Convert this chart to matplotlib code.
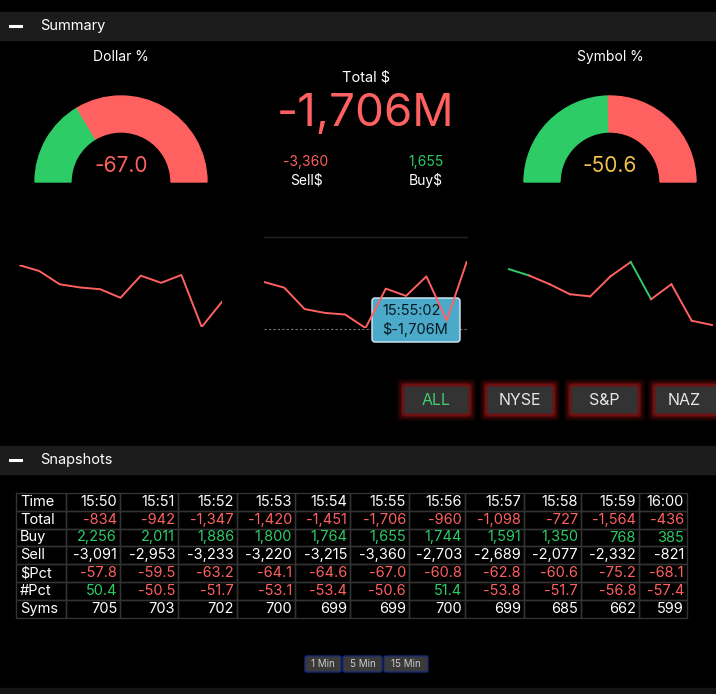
import numpy as np
import matplotlib.pyplot as plt
from matplotlib.patches import Wedge, Rectangle, FancyBboxPatch

plt.rcParams["font.family"] = ["Inter", "DejaVu Sans"]

W, H = 716, 694

# Snapshot data
times = ["15:50", "15:51", "15:52", "15:53", "15:54", "15:55", "15:56", "15:57", "15:58", "15:59", "16:00"]
total = [-834, -942, -1347, -1420, -1451, -1706, -960, -1098, -727, -1564, -436]
buy = [2256, 2011, 1886, 1800, 1764, 1655, 1744, 1591, 1350, 768, 385]
sell = [-3091, -2953, -3233, -3220, -3215, -3360, -2703, -2689, -2077, -2332, -821]
dollar_pct = [-57.8, -59.5, -63.2, -64.1, -64.6, -67.0, -60.8, -62.8, -60.6, -75.2, -68.1]
sym_pct = [50.4, -50.5, -51.7, -53.1, -53.4, -50.6, 51.4, -53.8, -51.7, -56.8, -57.4]
syms = [705, 703, 702, 700, 699, 699, 700, 699, 685, 662, 599]

dollar_gauge = -67.0
symbol_gauge = -50.6
total_now = -1706
sell_now = -3360
buy_now = 1655

RED = "#ff6060"
GREEN = "#2ecc66"
BG = "#000000"
BAR = "#1c1c1c"

fig = plt.figure(figsize=(W / 100, H / 100), dpi=100, facecolor=BG)
ax = fig.add_axes([0, 0, 1, 1])
ax.set_xlim(0, W)
ax.set_ylim(H, 0)
ax.axis("off")
ax.set_aspect("auto")


def pax(x0, y0, x1, y1):
    a = fig.add_axes([x0 / W, 1 - y1 / H, (x1 - x0) / W, (y1 - y0) / H])
    a.axis("off")
    a.patch.set_alpha(0)
    return a


# section headers
for y, label in [(12, "Summary"), (446, "Snapshots")]:
    ax.add_patch(Rectangle((0, y), W, 28, color=BAR))
    ax.plot([10, 21], [y + 14, y + 14], color="white", lw=2.2)
    ax.text(40, y + 14, label, color="white", fontsize=10.5, va="center")


# gauges
def gauge(cx, val, title, vcol):
    g = pax(cx - 90, 40, cx + 90, 190)
    g.set_xlim(-90, 90)
    g.set_ylim(-8, 142)
    split = 180 - (1 - abs(val) / 100) * 180
    g.add_patch(Wedge((0, 0), 86, split, 180, width=36, color=GREEN))
    g.add_patch(Wedge((0, 0), 86, 0, split, width=36, color=RED))
    g.text(0, 125, title, color="white", fontsize=10, ha="center", va="center")
    g.text(0, 16, f"{val:.1f}", color=vcol, fontsize=15, ha="center", va="center")


gauge(121, dollar_gauge, "Dollar %", RED)
gauge(610, symbol_gauge, "Symbol %", "#f2c14e")

# total block
ax.text(366, 77, "Total $", color="white", fontsize=10.5, ha="center", va="center")
ax.text(366, 114, f"{total_now:,}M", color=RED, fontsize=33, ha="center", va="center")
ax.text(306, 162, f"{sell_now:,}", color=RED, fontsize=10, ha="center", va="center")
ax.text(306, 180, "Sell$", color="white", fontsize=10, ha="center", va="center")
ax.text(426, 162, f"{buy_now:,}", color=GREEN, fontsize=10, ha="center", va="center")
ax.text(426, 180, "Buy$", color="white", fontsize=10, ha="center", va="center")

# sparklines
x = np.arange(len(times))
s1 = pax(19, 265, 222, 327)
s1.plot(x, dollar_pct, color=RED, lw=1.4)
s1.set_xlim(0, 10)
s1.set_ylim(min(dollar_pct), max(dollar_pct))

ax.plot([264, 467], [237, 237], color="#222222", lw=1)
ax.plot([264, 467], [329, 329], color="#777777", lw=0.8, ls=(0, (2, 2)))
s2 = pax(264, 261, 467, 328)
s2.plot(x, total, color=RED, lw=1.4)
s2.set_xlim(0, 10)
s2.set_ylim(min(total), max(total))

# symbol share: buy-side share of symbols
s3 = pax(509, 262, 712, 325)
sv = [v if v > 0 else 100 + v for v in sym_pct]
for i in range(len(sv) - 1):
    s3.plot(x[i:i + 2], sv[i:i + 2], color=GREEN if sym_pct[i] > 0 else RED, lw=1.4, clip_on=False)
s3.set_xlim(0, 10)
s3.set_ylim(min(sv), max(sv))

# tooltip
ax.add_patch(FancyBboxPatch((372, 298), 88, 44, boxstyle="round,pad=0,rounding_size=3",
                            fc="#4ba9c9", ec="#d8eef6", lw=1, zorder=5))
ax.text(382, 311, "15:55:02", color="#0a1a22", fontsize=10.5, va="center", zorder=6)
ax.text(382, 329, f"$-{abs(total_now):,}M", color="#0a1a22", fontsize=10.5, va="center", zorder=6)

# market buttons
for (x0, x1, lbl) in [(404, 469, "ALL"), (487, 553, "NYSE"), (571, 638, "S&P"), (655, 722, "NAZ")]:
    for k, al in [(7, 0.08), (5, 0.12), (3, 0.2), (1.5, 0.3)]:
        ax.add_patch(FancyBboxPatch((x0 - k, 386 - k), x1 - x0 + 2 * k, 28 + 2 * k,
                                    boxstyle="round,pad=0,rounding_size=4", fc="#ff2020", ec="none", alpha=al))
    ax.add_patch(FancyBboxPatch((x0, 386), x1 - x0, 28, boxstyle="round,pad=0,rounding_size=2",
                                fc="#333333", ec="#5a1a1a", lw=1))
    ax.text((x0 + min(x1, W + 10)) / 2 - (4 if lbl == "NAZ" else 0), 400, lbl,
            color="#3fcf6f" if lbl == "ALL" else "#e6e6e6", fontsize=11.5, ha="center", va="center")

# table
col_edges = [16, 66, 120, 178, 237, 295, 350, 409, 465, 524, 581, 639, 687]
row_top, row_h = 493, 17.8
rows = [
    ("Time", times, None),
    ("Total", [f"{v:,}" for v in total], [RED if v < 0 else GREEN for v in total]),
    ("Buy", [f"{v:,}" for v in buy], [GREEN] * len(buy)),
    ("Sell", [f"{v:,}" for v in sell], ["white"] * len(sell)),
    ("$Pct", [f"{v:.1f}" for v in dollar_pct], [RED if v < 0 else GREEN for v in dollar_pct]),
    ("#Pct", [f"{v:.1f}" for v in sym_pct], [RED if v < 0 else GREEN for v in sym_pct]),
    ("Syms", [str(v) for v in syms], ["white"] * len(syms)),
]
for r, (name, vals, cols) in enumerate(rows):
    y0 = row_top + r * row_h
    yc = y0 + row_h / 2
    for c in range(len(col_edges) - 1):
        ax.add_patch(Rectangle((col_edges[c], y0), col_edges[c + 1] - col_edges[c], row_h,
                               fc="none", ec="#333333", lw=1))
    ax.text(col_edges[0] + 4, yc, name, color="white", fontsize=10.5, va="center")
    for c, v in enumerate(vals):
        ax.text(col_edges[c + 2] - 3, yc, v, color=cols[c] if cols else "white",
                fontsize=10.5, ha="right", va="center")

# interval buttons
for (x0, x1, lbl) in [(305, 341, "1 Min"), (343, 382, "5 Min"), (384, 428, "15 Min")]:
    ax.add_patch(FancyBboxPatch((x0, 656), x1 - x0, 16, boxstyle="round,pad=0,rounding_size=2",
                                fc="#3a3a3a", ec="#1a2a7a", lw=1))
    ax.text((x0 + x1) / 2, 664, lbl, color="#cccccc", fontsize=7, ha="center", va="center")

ax.add_patch(Rectangle((0, 688), W, 6, color="#151515"))

fig.savefig("out.png", dpi=100, facecolor=BG)
